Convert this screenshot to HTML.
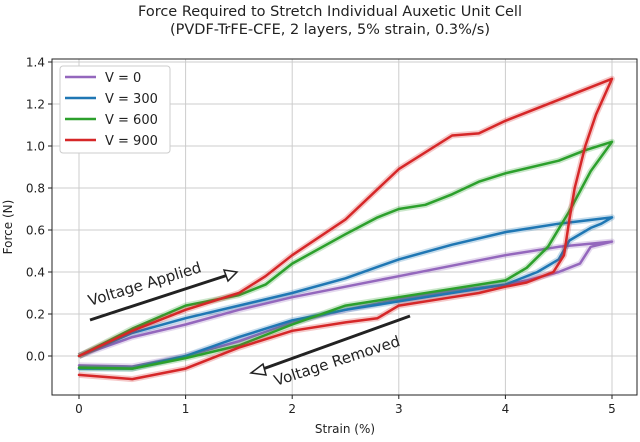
<!DOCTYPE html>
<html><head><meta charset="utf-8">
<style>
body{margin:0;background:#fff;}
svg text{font-family:"DejaVu Sans","Liberation Sans",sans-serif;fill:#222;}
</style></head>
<body>
<svg id="chart" width="640" height="437" viewBox="0 0 640 437" xmlns="http://www.w3.org/2000/svg">
<text x="330" y="16" text-anchor="middle" font-size="14.5">Force Required to Stretch Individual Auxetic Unit Cell</text>
<text x="330" y="34" text-anchor="middle" font-size="14.5">(PVDF-TrFE-CFE, 2 layers, 5% strain, 0.3%/s)</text>
<g id="grid"></g>
<g id="ticks"></g>
<g id="series"></g>
<rect x="52" y="59" width="585" height="336" fill="none" stroke="#222" stroke-width="1"/>
<text x="345" y="433" text-anchor="middle" font-size="12">Strain (%)</text>
<text transform="translate(12,227) rotate(-90)" text-anchor="middle" font-size="12">Force (N)</text>
<g>
<line x1="90" y1="320" x2="228" y2="275" stroke="#222" stroke-width="3"/>
<polygon points="237,272 224,270 228,281" fill="#fff" stroke="#222" stroke-width="1.5"/>
<text transform="translate(90,306) rotate(-17)" font-size="15">Voltage Applied</text>
</g>
<g>
<line x1="410" y1="316" x2="260" y2="370" stroke="#222" stroke-width="3"/>
<polygon points="251,373 263,364 266,375" fill="#fff" stroke="#222" stroke-width="1.5"/>
<text transform="translate(276,386) rotate(-18)" font-size="15">Voltage Removed</text>
</g>
<g>
<rect x="60" y="66" width="110" height="87" rx="3" fill="#fff" stroke="#ccc"/>
<g id="legend"></g>
</g>
</svg>
<script>
const xTicks=[0,1,2,3,4,5];
const yTicks=[0.0,0.2,0.4,0.6,0.8,1.0,1.2,1.4];
const seriesNames=["V = 0","V = 300","V = 600","V = 900"];
const seriesColors=["#9467bd","#1f77b4","#2ca02c","#d62728"];
const loadX0=[0,0.5,1,1.5,2,2.5,3,3.5,4,4.5,5];
const loadY0=[0,0.09,0.15,0.22,0.28,0.33,0.38,0.43,0.48,0.52,0.545];
const unloadX0=[5,4.8,4.7,4.5,4.2,4,3.5,3,2.5,2,1.5,1,0.5,0];
const unloadY0=[0.545,0.52,0.44,0.40,0.36,0.34,0.31,0.27,0.22,0.16,0.07,0.0,-0.05,-0.045];
const loadX1=[0,0.5,1,1.5,2,2.5,3,3.5,4,4.5,5];
const loadY1=[0,0.11,0.18,0.24,0.30,0.37,0.46,0.53,0.59,0.63,0.66];
const unloadX1=[5,4.9,4.8,4.6,4.5,4.3,4,3.5,3,2.5,2,1.5,1,0.5,0];
const unloadY1=[0.66,0.63,0.61,0.55,0.46,0.40,0.34,0.30,0.26,0.22,0.17,0.09,0.0,-0.06,-0.06];
const loadX2=[0,0.5,1,1.5,1.75,2,2.5,2.8,3,3.25,3.5,3.75,4,4.5,4.75,5];
const loadY2=[0,0.13,0.24,0.29,0.34,0.44,0.58,0.66,0.70,0.72,0.77,0.83,0.87,0.93,0.98,1.02];
const unloadX2=[5,4.8,4.6,4.4,4.2,4,3.75,3.5,3,2.5,2,1.5,1,0.5,0];
const unloadY2=[1.02,0.88,0.69,0.52,0.42,0.36,0.34,0.32,0.28,0.24,0.15,0.05,-0.01,-0.06,-0.055];
const loadX3=[0,0.5,1,1.5,1.75,2,2.5,3,3.5,3.75,4,4.5,5];
const loadY3=[0,0.12,0.22,0.30,0.38,0.48,0.65,0.89,1.05,1.06,1.12,1.22,1.32];
const unloadX3=[5,4.85,4.75,4.65,4.6,4.55,4.45,4.2,4,3.75,3.5,3,2.8,2.5,2,1.5,1,0.5,0];
const unloadY3=[1.32,1.15,1.00,0.80,0.65,0.48,0.40,0.35,0.33,0.30,0.28,0.24,0.18,0.16,0.12,0.04,-0.06,-0.11,-0.09];
const loadsX=[loadX0,loadX1,loadX2,loadX3],loadsY=[loadY0,loadY1,loadY2,loadY3];
const unloadsX=[unloadX0,unloadX1,unloadX2,unloadX3],unloadsY=[unloadY0,unloadY1,unloadY2,unloadY3];

const NS="http://www.w3.org/2000/svg";
function xs(v){return 79+v*106.6;}
function ys(v){return 356-v*210;}
function mk(t,a,p){const e=document.createElementNS(NS,t);for(const k in a)e.setAttribute(k,a[k]);p.appendChild(e);return e;}
const grid=document.getElementById('grid'),ticks=document.getElementById('ticks'),ser=document.getElementById('series'),leg=document.getElementById('legend');
xTicks.forEach(v=>{
 const g=mk('line',{x1:xs(v),x2:xs(v),y1:59,y2:395,stroke:'#ccc','stroke-width':1},grid);
 
 
 mk('line',{x1:xs(v),x2:xs(v),y1:395,y2:399,stroke:'#222'},ticks);
 const t=mk('text',{x:xs(v),y:413,'text-anchor':'middle','font-size':12},ticks);
 t.textContent=v;
 
 
});
yTicks.forEach(v=>{
 const g=mk('line',{x1:52,x2:637,y1:ys(v),y2:ys(v),stroke:'#ccc','stroke-width':1},grid);
 
 
 mk('line',{x1:48,x2:52,y1:ys(v),y2:ys(v),stroke:'#222'},ticks);
 const t=mk('text',{x:45,y:ys(v)+4.5,'text-anchor':'end','font-size':12},ticks);
 t.textContent=v.toFixed(1);
 
 
});
function pts(X,Y){return X.map((x,i)=>xs(x).toFixed(1)+','+ys(Y[i]).toFixed(1)).join(' ');}
for(let s=0;s<4;s++){
 const p=pts(loadsX[s],loadsY[s])+' '+pts(unloadsX[s],unloadsY[s]);
 const band=mk('polyline',{points:p,fill:'none',stroke:seriesColors[s],'stroke-opacity':0.25,'stroke-width':6,'stroke-linejoin':'round'},ser);
 
 
 const l=mk('polyline',{points:p,fill:'none',stroke:seriesColors[s],'stroke-width':2.5,'stroke-linejoin':'round','stroke-linecap':'round'},ser);
 
 
 const y=77+s*21;
 mk('line',{x1:65,x2:96,y1:y,y2:y,stroke:seriesColors[s],'stroke-width':2.5},leg);
 const t=mk('text',{x:105,y:y+5,'font-size':13},leg);
 t.textContent=seriesNames[s];
 
 
}
</script>
</body></html>
